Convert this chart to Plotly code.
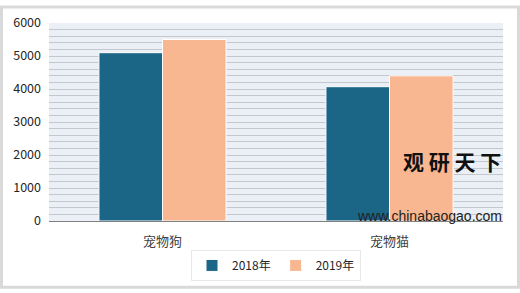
import plotly.graph_objects as go

categories = ["宠物狗", "宠物猫"]
years = ["2018年", "2019年"]
values_2018 = [5100, 4070]
values_2019 = [5500, 4400]
colors = ["#1B6587", "#F8B790"]
y_ticks = [0, 1000, 2000, 3000, 4000, 5000, 6000]

W, H = 520, 293
ml, mr, mt, mb = 49, 17, 18, 70
pw, ph = W - ml - mr, H - mt - mb

fig = go.Figure()
for name, vals, col in zip(years, [values_2018, values_2019], colors):
    fig.add_trace(go.Bar(x=categories, y=vals, name=name,
                         marker=dict(color=col, line=dict(color="white", width=1))))

def px(x):
    return (x - ml) / pw

def py(y):
    return (H - mb - y) / ph

fig.add_shape(type="rect", xref="paper", yref="paper",
              x0=px(1.5), x1=px(W - 1.5), y0=py(1.5), y1=py(H - 1.5),
              line=dict(color="#D9D9D9", width=3), fillcolor="rgba(0,0,0,0)", layer="below")

fig.add_annotation(xref="paper", yref="paper", x=px(503), y=py(178), xanchor="right", yanchor="bottom",
                   text="<b>观 研 天 下</b>", showarrow=False,
                   font=dict(family="Noto Sans CJK SC", size=21, color="#111111"))
fig.add_annotation(xref="paper", yref="paper", x=px(504), y=py(218), xanchor="right", yanchor="middle",
                   text="www.chinabaogao.com", showarrow=False,
                   font=dict(family="Liberation Sans", size=14, color="#222222"))

fig.update_layout(
    width=W, height=H,
    margin=dict(l=ml, r=mr, t=mt, b=mb),
    paper_bgcolor="white",
    plot_bgcolor="#EAF0F5",
    barmode="group", bargap=0.44, bargroupgap=0,
    font=dict(family="Noto Sans CJK SC", size=12, color="#404040"),
    showlegend=True,
    legend=dict(orientation="h", x=0.5, xanchor="center", y=py(269), yanchor="middle",
                bgcolor="white", bordercolor="#E8E8E8", borderwidth=1,
                font=dict(size=12, color="#262626"), itemwidth=30, tracegroupgap=0),
    xaxis=dict(showline=True, linecolor="#808080", linewidth=1, ticks="",
               tickfont=dict(size=13, color="#404040"), showgrid=False, ticklabelstandoff=8),
    yaxis=dict(range=[0, 6000], tickvals=y_ticks, showgrid=True, gridcolor="#C4C8CC",
               gridwidth=1, zeroline=False, ticks="", tickfont=dict(size=12.5, color="#262626"),
               ticklabelstandoff=7,
               minor=dict(dtick=200, showgrid=True, gridcolor="#C4C8CC", gridwidth=1)),
)

fig.write_html("out.html")
